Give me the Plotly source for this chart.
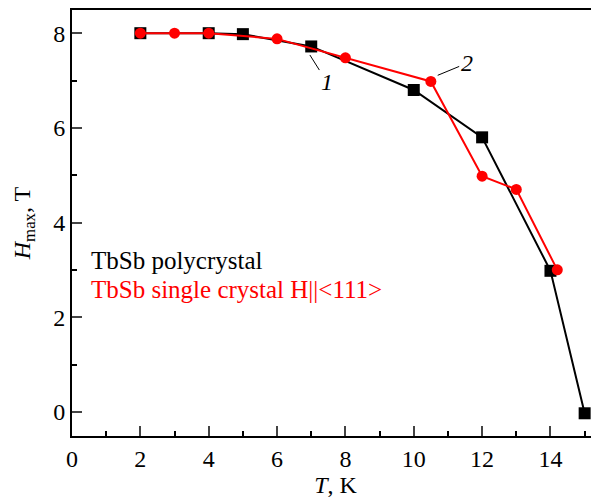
import plotly.graph_objects as go

# Data
poly_T = [2, 4, 5, 7, 10, 12, 14, 15]
poly_H = [8.0, 8.0, 7.98, 7.72, 6.8, 5.8, 2.98, -0.03]
single_T = [2, 3, 4, 6, 8, 10.5, 12, 13, 14.2]
single_H = [8.0, 8.0, 8.0, 7.88, 7.48, 6.98, 4.98, 4.7, 3.0]
x_ticks = [0, 2, 4, 6, 8, 10, 12, 14]
y_ticks = [0, 2, 4, 6, 8]

FONT = "Times New Roman, Liberation Serif, serif"

fig = go.Figure()
fig.add_trace(go.Scatter(x=poly_T, y=poly_H, mode="lines+markers",
                         line=dict(color="black", width=2),
                         marker=dict(symbol="square", size=12, color="black"),
                         name="TbSb polycrystal", showlegend=False))
fig.add_trace(go.Scatter(x=single_T, y=single_H, mode="lines+markers",
                         line=dict(color="#ff0000", width=2),
                         marker=dict(symbol="circle", size=11, color="#ff0000"),
                         name="TbSb single crystal", showlegend=False))

fig.update_layout(
    width=591, height=494,
    margin=dict(l=64, r=0, t=2, b=66),
    paper_bgcolor="white", plot_bgcolor="white",
    font=dict(family=FONT, size=24, color="black"),
    xaxis=dict(range=[0, 15.42], tickvals=x_ticks, ticks="inside", ticklen=10, tickwidth=1.5,
               showline=True, linewidth=2, linecolor="black", mirror=True,
               showgrid=False, zeroline=False,
               minor=dict(dtick=1, ticks="inside", ticklen=5, tickwidth=1.5, tickcolor="black"),
               title=dict(text="<i>T</i>, K", standoff=0, font=dict(family=FONT, size=24)),
               tickfont=dict(family=FONT, size=24)),
    yaxis=dict(range=[-0.51, 8.49], tickvals=y_ticks, ticks="inside", ticklen=10, tickwidth=1.5,
               showline=True, linewidth=2, linecolor="black",
               showgrid=False, zeroline=False,
               minor=dict(dtick=1, ticks="inside", ticklen=5, tickwidth=1.5, tickcolor="black"),
               title=dict(text="<i>H</i><sub>max</sub>, T", standoff=16, font=dict(family=FONT, size=24)),
               tickfont=dict(family=FONT, size=24)),
)

fig.add_annotation(x=6.96, y=7.54, ax=17, ay=27, text="<i>1</i>", showarrow=True,
                   arrowhead=0, arrowwidth=1, arrowcolor="black",
                   font=dict(family=FONT, size=24, color="black"))
fig.add_annotation(x=10.7, y=7.11, ax=29, ay=-12, text="<i>2</i>", showarrow=True,
                   arrowhead=0, arrowwidth=1, arrowcolor="black",
                   font=dict(family=FONT, size=24, color="black"))

fig.add_annotation(xref="paper", yref="paper", x=0.032, y=0.413, xanchor="left", yanchor="middle",
                   text="TbSb polycrystal", showarrow=False,
                   font=dict(family=FONT, size=25, color="black"))
fig.add_annotation(xref="paper", yref="paper", x=0.032, y=0.343, xanchor="left", yanchor="middle",
                   text="TbSb single crystal H||&lt;111&gt;", showarrow=False,
                   font=dict(family=FONT, size=25, color="#ff0000"))

fig.write_html("out.html")
